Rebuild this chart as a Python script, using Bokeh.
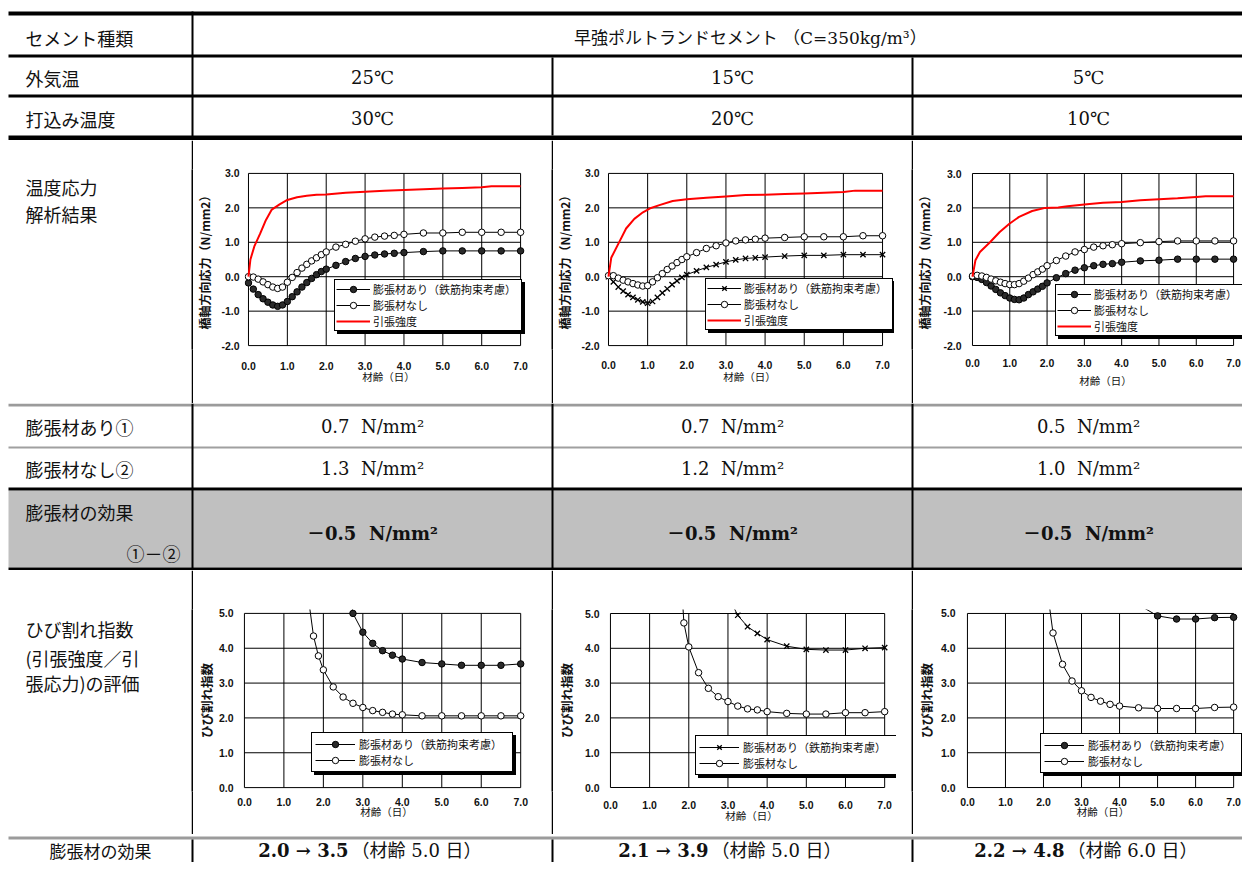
from bokeh.plotting import figure
from bokeh.layouts import column, row
from bokeh.models import (Range1d, FixedTicker, PrintfTickFormatter, Legend,
                          LegendItem, ColumnDataSource)
from bokeh.core.properties import value
from bokeh.embed import file_html
from bokeh.resources import INLINE

# ---------------- table content ----------------
top_labels = ["セメント種類", "外気温", "打込み温度"]
cement_type = "早強ポルトランドセメント （C=350kg/m³）"
air_temp = ["25℃", "15℃", "5℃"]
placing_temp = ["30℃", "20℃", "10℃"]
stress_row_label = ["温度応力", "解析結果"]
crack_row_label = ["ひび割れ指数", "(引張強度／引", "張応力)の評価"]
mid_labels = ["膨張材あり①", "膨張材なし②", "膨張材の効果"]
diff_label = "①－②"
stress_with_max = [0.7, 0.7, 0.5]
stress_without_max = [1.3, 1.2, 1.0]
stress_effect = [-0.5, -0.5, -0.5]
bottom_label = "膨張材の効果"
crack_without_at_age = [2.0, 2.1, 2.2]
crack_with_at_age = [3.5, 3.9, 4.8]
eval_age = [5.0, 5.0, 6.0]
unit = "N/mm²"

series_names = ["膨張材あり（鉄筋拘束考慮）", "膨張材なし", "引張強度"]
x_ticks = [0, 1, 2, 3, 4, 5, 6, 7]
stress_ticks = [-2, -1, 0, 1, 2, 3]
crack_ticks = [0, 1, 2, 3, 4, 5]
age_title = "材齢（日）"
stress_title = "橋軸方向応力（N/mm2）"
crack_title = "ひび割れ指数"

# ---------------- thermal stress (N/mm2) vs age (days) ----------------
age_stress = [0.0, 0.125, 0.25, 0.375, 0.5, 0.625, 0.75, 0.875, 1.0, 1.125, 1.25,
              1.375, 1.5, 1.625, 1.75, 1.875, 2.0, 2.25, 2.5, 2.75, 3.0, 3.25,
              3.5, 3.75, 4.0, 4.5, 5.0, 5.5, 6.0, 6.5, 7.0]
s25_with = [-0.18, -0.36, -0.52, -0.64, -0.74, -0.82, -0.86, -0.82, -0.72, -0.58,
            -0.44, -0.30, -0.17, -0.05, 0.06, 0.15, 0.22, 0.33, 0.44, 0.53, 0.59,
            0.63, 0.66, 0.68, 0.70, 0.73, 0.75, 0.75, 0.75, 0.75, 0.75]
s25_without = [0.00, -0.01, -0.07, -0.15, -0.23, -0.30, -0.34, -0.30, -0.16, -0.02,
               0.12, 0.25, 0.36, 0.46, 0.55, 0.64, 0.72, 0.86, 0.94, 1.03, 1.10,
               1.15, 1.18, 1.20, 1.23, 1.27, 1.27, 1.29, 1.29, 1.29, 1.29]
s15_with = [0.00, -0.15, -0.30, -0.42, -0.52, -0.60, -0.67, -0.73, -0.77, -0.72,
            -0.60, -0.47, -0.35, -0.23, -0.12, -0.02, 0.06, 0.17, 0.27, 0.35, 0.43,
            0.49, 0.53, 0.55, 0.57, 0.60, 0.62, 0.62, 0.64, 0.64, 0.64]
s15_without = [0.03, 0.03, -0.04, -0.10, -0.15, -0.20, -0.24, -0.27, -0.26, -0.15,
               -0.03, 0.09, 0.21, 0.31, 0.41, 0.50, 0.58, 0.70, 0.82, 0.90, 0.98,
               1.04, 1.07, 1.09, 1.12, 1.14, 1.16, 1.16, 1.16, 1.19, 1.19]
s5_with = [0.00, -0.02, -0.08, -0.17, -0.27, -0.37, -0.47, -0.55, -0.62, -0.66,
           -0.67, -0.62, -0.52, -0.44, -0.36, -0.28, -0.18, -0.03, 0.09, 0.19, 0.26,
           0.32, 0.36, 0.38, 0.42, 0.46, 0.48, 0.51, 0.51, 0.51, 0.51]
s5_without = [0.02, 0.04, 0.02, -0.02, -0.07, -0.12, -0.16, -0.20, -0.23, -0.23,
              -0.20, -0.13, -0.04, 0.06, 0.14, 0.22, 0.32, 0.47, 0.60, 0.72, 0.79,
              0.86, 0.90, 0.93, 0.96, 0.99, 1.02, 1.04, 1.04, 1.04, 1.04]

# tensile strength
r25_age = [0.0, 0.05, 0.15, 0.3, 0.45, 0.6, 0.8, 1.0, 1.25, 1.5, 1.75, 2.0, 2.5,
           3.0, 3.5, 4.0, 4.5, 5.0, 5.5, 6.0, 6.25, 7.0]
r25 = [0.0, 0.5, 0.88, 1.25, 1.65, 1.95, 2.1, 2.23, 2.31, 2.35, 2.38, 2.39, 2.44,
       2.47, 2.5, 2.52, 2.54, 2.56, 2.58, 2.6, 2.63, 2.63]
r15_age = [0.0, 0.07, 0.28, 0.45, 0.66, 0.88, 1.05, 1.3, 1.64, 2.0, 2.5, 3.0, 3.5,
           4.0, 4.5, 5.0, 5.5, 6.0, 6.3, 7.0]
r15 = [0.0, 0.55, 1.02, 1.4, 1.68, 1.87, 1.98, 2.08, 2.2, 2.25, 2.29, 2.33, 2.37,
       2.38, 2.4, 2.42, 2.44, 2.46, 2.5, 2.5]
r5_age = [0.0, 0.08, 0.2, 0.47, 0.73, 0.99, 1.25, 1.6, 1.95, 2.3, 2.55, 3.0, 3.5,
          4.0, 4.5, 5.0, 5.5, 6.0, 6.25, 7.0]
r5 = [0.0, 0.48, 0.72, 1.0, 1.3, 1.54, 1.74, 1.91, 2.0, 2.01, 2.05, 2.1, 2.15,
      2.17, 2.22, 2.25, 2.28, 2.32, 2.34, 2.34]

# ---------------- crack index vs age ----------------
c25_without_age = [1.5, 1.625, 1.75, 1.875, 2.0, 2.25, 2.5, 2.75, 3.0, 3.25, 3.5,
                   3.75, 4.0, 4.5, 5.0, 5.5, 6.0, 6.5, 7.0]
c25_without = [7.5, 5.4, 4.35, 3.78, 3.38, 2.89, 2.6, 2.42, 2.3, 2.21, 2.16, 2.11,
               2.09, 2.06, 2.06, 2.06, 2.06, 2.06, 2.06]
c25_with_age = [2.5, 2.75, 3.0, 3.25, 3.5, 3.75, 4.0, 4.5, 5.0, 5.5, 6.0, 6.5, 7.0]
c25_with = [7.0, 5.0, 4.46, 4.14, 3.93, 3.8, 3.69, 3.59, 3.55, 3.51, 3.51, 3.51, 3.55]
c15_without_age = [1.75, 1.875, 2.0, 2.25, 2.5, 2.75, 3.0, 3.25, 3.5, 3.75, 4.0,
                   4.5, 5.0, 5.5, 6.0, 6.5, 7.0]
c15_without = [7.0, 4.73, 4.04, 3.3, 2.85, 2.61, 2.47, 2.34, 2.26, 2.23, 2.18, 2.13,
               2.11, 2.11, 2.15, 2.15, 2.18]
c15_with_age = [3.0, 3.25, 3.5, 3.75, 4.0, 4.5, 5.0, 5.5, 6.0, 6.5, 7.0]
c15_with = [5.5, 4.95, 4.62, 4.43, 4.25, 4.06, 3.97, 3.95, 3.95, 4.0, 4.02]
c5_without_age = [2.0, 2.25, 2.5, 2.75, 3.0, 3.25, 3.5, 3.75, 4.0, 4.5, 5.0, 5.5,
                  6.0, 6.5, 7.0]
c5_without = [6.5, 4.44, 3.54, 3.06, 2.78, 2.59, 2.48, 2.39, 2.34, 2.29, 2.27, 2.27,
              2.27, 2.3, 2.31]
c5_with_age = [4.5, 5.0, 5.5, 6.0, 6.5, 7.0]
c5_with = [5.25, 4.93, 4.84, 4.84, 4.88, 4.89]

# ---------------- styling ----------------
JP = "Noto Sans CJK JP"
SERIF = "DejaVu Serif, Noto Sans CJK JP"
TICKF = "Liberation Sans"
W = 1242
col_center = [100, 372, 732, 1088]
vsep = [191, 551, 911]
NB2 = "\u00a0\u00a0"


def table_fig(w, h):
    p = figure(width=w, height=h, x_range=Range1d(0, w), y_range=Range1d(h, 0),
               min_border=0, toolbar_location=None, output_backend="svg",
               x_axis_location=None, y_axis_location=None)
    p.grid.visible = False
    p.outline_line_color = None
    p.background_fill_color = "white"
    p.border_fill_color = "white"
    return p


def band(p, x0, x1, y0, y1, color):
    p.quad(left=[x0], right=[x1], top=[y0], bottom=[y1], fill_color=color,
           line_color=None)


def put_text(p, xs, ys, texts, font, size, align="left", style="normal"):
    src = ColumnDataSource(dict(x=xs, y=ys, t=texts))
    p.text(x="x", y="y", text="t", source=src, text_font=value(font),
           text_font_size=value(size), text_align=align, text_baseline="middle",
           text_font_style=style, text_color="#111111")


def sep(h):
    p = table_fig(2, h)
    p.background_fill_color = "black"
    p.border_fill_color = "black"
    return p


def fmt_stress(v):
    s = f"{abs(v):.1f}"
    return ("－" + s if v < 0 else s) + NB2 + unit


def make_chart(fig_w, fig_h, box, y_ticks, y_title, y_title_size, curves, red,
               leg, cfg):
    bl, br, bt, bb = box
    sy, ay, sx, ax = cfg
    pad = 4
    pad_r = min(12, fig_w - br)
    ppx = (br - bl) / (x_ticks[-1] - x_ticks[0])
    ppy = (bb - bt) / (y_ticks[-1] - y_ticks[0])
    p = figure(width=fig_w, height=fig_h,
               x_range=Range1d(x_ticks[0] - pad / ppx, x_ticks[-1] + pad_r / ppx),
               y_range=Range1d(y_ticks[0] - pad / ppy, y_ticks[-1] + pad / ppy),
               min_border_left=bl - pad, min_border_right=fig_w - br - pad_r,
               min_border_top=bt - pad, min_border_bottom=fig_h - bb - pad,
               toolbar_location=None, output_backend="svg")
    p.grid.visible = False
    p.outline_line_color = None
    p.background_fill_color = "white"
    p.border_fill_color = "white"
    n, m = len(x_ticks), len(y_ticks)
    p.segment(x0=x_ticks, x1=x_ticks, y0=[y_ticks[0]] * n, y1=[y_ticks[-1]] * n,
              line_color="black", line_width=1)
    p.segment(x0=[x_ticks[0]] * m, x1=[x_ticks[-1]] * m, y0=y_ticks, y1=y_ticks,
              line_color="black", line_width=1)
    xa, ya = p.xaxis[0], p.yaxis[0]
    xa.ticker = FixedTicker(ticks=x_ticks)
    ya.ticker = FixedTicker(ticks=y_ticks)
    xa.formatter = PrintfTickFormatter(format="%.1f")
    ya.formatter = PrintfTickFormatter(format="%.1f")
    for a in (xa, ya):
        a.axis_line_color = None
        a.major_tick_out = 0
        a.major_tick_in = 0
        a.minor_tick_out = 0
        a.minor_tick_in = 0
        a.major_label_text_font = TICKF
        a.major_label_text_font_size = "10.5px"
        a.major_label_text_font_style = "bold"
        a.major_label_text_color = "#111111"
        a.axis_label_text_font = JP
        a.axis_label_text_color = "#111111"
    xa.major_label_standoff = sx
    ya.major_label_standoff = sy
    xa.axis_label = age_title
    xa.axis_label_text_font_size = "10.5px"
    xa.axis_label_text_font_style = "normal"
    xa.axis_label_standoff = ax
    ya.axis_label = y_title
    ya.axis_label_text_font_size = y_title_size
    ya.axis_label_text_font_style = "bold"
    ya.axis_label_standoff = ay

    rends = []
    for t, v, mk in curves:
        src = ColumnDataSource(dict(x=t, y=v))
        lr = p.line("x", "y", source=src, line_color="black", line_width=1)
        if mk == "filled":
            sr = p.scatter("x", "y", source=src, marker="circle", size=6.5,
                           fill_color="#2a2a2a", line_color="black", line_width=1)
        elif mk == "open":
            sr = p.scatter("x", "y", source=src, marker="circle", size=6.5,
                           fill_color="white", line_color="black", line_width=1)
        else:
            sr = p.scatter("x", "y", source=src, marker="x", size=7.5,
                           line_color="black", line_width=1.3)
        rends.append([lr, sr])
    if red is not None:
        rr = p.line(red[0], red[1], line_color="#ff0000", line_width=2)
        rends.append([rr])

    lx, lb, lw, lpad, gw, gh, st = leg
    loc = (lx - (bl - pad), (bb + pad) - lb)
    common = dict(padding=lpad, spacing=0, margin=0, glyph_width=gw,
                  glyph_height=gh, label_height=gh, label_width=lw,
                  label_standoff=st, label_text_font=JP,
                  label_text_font_size="11px", label_text_color="#111111",
                  border_line_color="black", border_line_width=1,
                  border_line_alpha=1.0, background_fill_alpha=1.0)
    dummy = p.line(x=[], y=[], line_color="black")
    shadow = Legend(items=[LegendItem(label=value(""), renderers=[dummy])
                           for _ in rends],
                    location=(loc[0] + 3, loc[1] - 3),
                    background_fill_color="black", **common)
    real = Legend(items=[LegendItem(label=value(series_names[i]), renderers=r)
                         for i, r in enumerate(rends)],
                  location=loc, background_fill_color="white", **common)
    p.add_layout(shadow, "center")
    p.add_layout(real, "center")
    return p


# ---------------- block A : header rows ----------------
HA = 140
pa = table_fig(W, HA)
band(pa, 8, W, 11, 15, "black")
band(pa, 8, W, 54, 57, "black")
band(pa, 8, W, 94, 97, "black")
band(pa, 8, W, 135, 140, "black")
band(pa, vsep[0], vsep[0] + 2, 11, 140, "black")
for xv in vsep[1:]:
    band(pa, xv, xv + 2, 57, 135, "black")
put_text(pa, [25, 25, 25], [37, 77, 118], top_labels, JP, "18px")
put_text(pa, [750], [37], [cement_type], SERIF, "17px", "center")
put_text(pa, col_center[1:], [77] * 3, air_temp, SERIF, "18px", "center")
put_text(pa, col_center[1:], [118] * 3, placing_temp, SERIF, "18px", "center")

# ---------------- block B : thermal stress charts ----------------
HB = 263
lb_fig = table_fig(191, HB)
put_text(lb_fig, [25, 25], [26, 65], stress_row_label, JP, "18px")

legB = lambda x, b: (x, b, 147, 1, 34, 16, 3)
chB1 = make_chart(358, HB, (53, 327, 33, 209), stress_ticks, stress_title, "12px",
                  [(age_stress, s25_with, "filled"), (age_stress, s25_without, "open")],
                  (r25_age, r25), legB(139, 195), (5, 5, 12, -4))
chB2 = make_chart(358, HB, (54, 329, 33, 209), stress_ticks, stress_title, "12px",
                  [(age_stress, s15_with, "x"), (age_stress, s15_without, "open")],
                  (r15_age, r15), legB(151, 194), (5, 5, 11, -3))
chB3 = make_chart(329, HB, (57, 320, 33, 205), stress_ticks, stress_title, "12px",
                  [(age_stress, s5_with, "filled"), (age_stress, s5_without, "open")],
                  (r5_age, r5), legB(140, 196), (7, 7, 9, 3))

# ---------------- block C : stress summary rows ----------------
HC = 167
pc = table_fig(W, HC)
band(pc, 8, W, 87, 164, "#c0c0c0")
band(pc, 8, W, 0, 3, "#9b9b9b")
band(pc, 8, W, 43, 45, "#a0a0a0")
band(pc, 8, W, 84, 87, "black")
band(pc, 8, W, 164, 167, "black")
for xv in vsep:
    band(pc, xv, xv + 2, 0, HC, "black")
put_text(pc, [25, 25, 25], [23, 65, 108], mid_labels, JP, "18px")
put_text(pc, [180], [151], [diff_label], SERIF, "18px", "right")
put_text(pc, col_center[1:], [23] * 3, [fmt_stress(v) for v in stress_with_max],
         SERIF, "18px", "center")
put_text(pc, col_center[1:], [65] * 3, [fmt_stress(v) for v in stress_without_max],
         SERIF, "18px", "center")
put_text(pc, col_center[1:], [130] * 3, [fmt_stress(v) for v in stress_effect],
         SERIF, "18px", "center", "bold")

# ---------------- block D : crack index charts ----------------
HD = 264
ld_fig = table_fig(191, HD)
put_text(ld_fig, [25, 25, 25], [28, 70, 107], crack_row_label, JP, "18px")

legD = lambda x, b: (x, b, 150, 3, 40, 16, 4)
chD1 = make_chart(358, HD, (46, 327, 42, 221), crack_ticks, crack_title, "12.5px",
                  [(c25_with_age, c25_with, "filled"),
                   (c25_without_age, c25_without, "open")],
                  None, legD(113, 206), (7, 0, 6, -5))
chD2 = make_chart(358, HD, (53, 331, 43, 217), crack_ticks, crack_title, "12.5px",
                  [(c15_with_age, c15_with, "x"),
                   (c15_without_age, c15_without, "open")],
                  None, legD(138, 205), (7, 6, 9, -4))
chD3 = make_chart(329, HD, (50, 320, 43, 219), crack_ticks, crack_title, "12.5px",
                  [(c5_with_age, c5_with, "filled"),
                   (c5_without_age, c5_without, "open")],
                  None, legD(123, 205), (8, 2, 6, -5))

# ---------------- block E : crack index effect row ----------------
HE = 28
pe = table_fig(W, HE)
band(pe, 8, W, 2, 5, "#9b9b9b")
for xv in vsep:
    band(pe, xv, xv + 2, 5, HE, "black")
put_text(pe, [col_center[0]], [15.5], [bottom_label], JP, "17px", "center")
put_text(pe, [c - 24 for c in col_center[1:]], [15.5] * 3,
         [f"{a:.1f} → {b:.1f}" for a, b in zip(crack_without_at_age, crack_with_at_age)],
         SERIF, "18px", "right", "bold")
put_text(pe, [c - 21 for c in col_center[1:]], [15.5] * 3,
         [f"（材齢 {d:.1f} 日）" for d in eval_age], SERIF, "18px", "left")

layout = column(
    pa,
    row(lb_fig, sep(HB), chB1, sep(HB), chB2, sep(HB), chB3),
    pc,
    row(ld_fig, sep(HD), chD1, sep(HD), chD2, sep(HD), chD3),
    pe,
)

open("out.html", "w").write(file_html(layout, INLINE, title="温度応力解析結果"))
